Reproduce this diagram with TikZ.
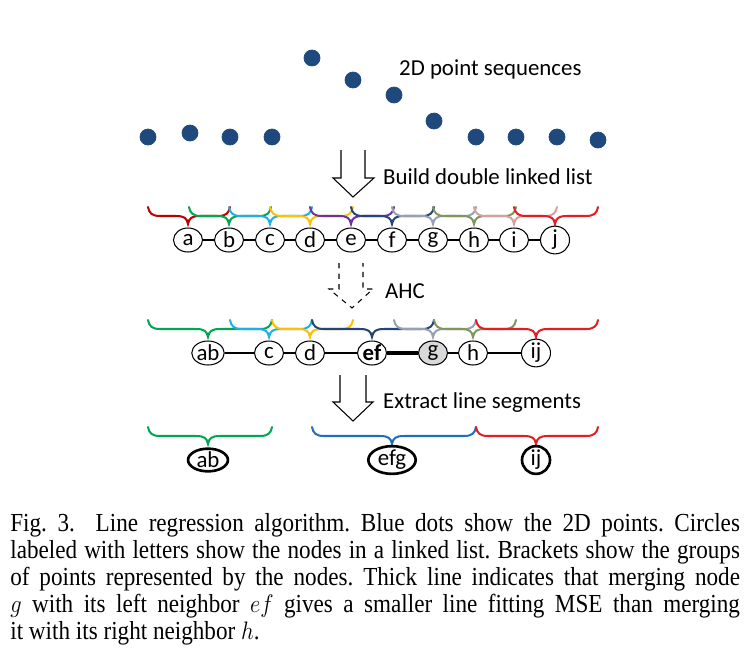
\documentclass[tikz,border=0pt]{standalone}
\usepackage{fontspec}
\setmainfont{Liberation Serif}
\newfontfamily\calibri{Carlito}
\usetikzlibrary{shapes.geometric}
\definecolor{dotblue}{RGB}{31,73,125}
\definecolor{bra}{RGB}{192,0,0}
\definecolor{brb}{RGB}{0,166,81}
\definecolor{brc}{RGB}{30,175,230}
\definecolor{brd}{RGB}{255,192,0}
\definecolor{bre}{RGB}{112,48,160}
\definecolor{brf}{RGB}{38,68,118}
\definecolor{brg}{RGB}{150,162,178}
\definecolor{brh}{RGB}{128,150,90}
\definecolor{bri}{RGB}{215,160,160}
\definecolor{brj}{RGB}{226,30,36}
\definecolor{brefg}{RGB}{30,110,190}
\definecolor{nodegray}{RGB}{217,217,217}
% curly bracket: colour, left x, tip x, right x, top y
\newcommand{\grpbrace}[5]{%
  \draw[grp,#1] (#2,#5) .. controls (#2+1,#5+6) and (#2+4,#5+9) .. (#2+12,#5+9) -- (#3-12,#5+9)
    .. controls (#3-4,#5+9) and (#3-1,#5+11) .. (#3,#5+17)
    .. controls (#3+1,#5+11) and (#3+4,#5+9) .. (#3+12,#5+9)
    -- (#4-12,#5+9) .. controls (#4-4,#5+9) and (#4-1,#5+6) .. (#4,#5);}
\begin{document}
\begin{tikzpicture}[x=0.02cm,y=-0.02cm,
    grp/.style={line width=1.15pt,line cap=round},
    listnode/.style={draw,ellipse,line width=0.6pt,minimum width=0.58cm,minimum height=0.48cm,
      inner sep=0pt,fill=white,font=\calibri\fontsize{13}{14}\selectfont},
    segnode/.style={draw,ellipse,line width=1.5pt,minimum width=0.56cm,minimum height=0.41cm,
      inner xsep=1.5pt,inner ysep=0pt,font=\calibri\fontsize{13}{14}\selectfont},
    lbl/.style={anchor=west,font=\calibri\fontsize{13}{15}\selectfont},
    blockarrow/.style={line width=0.6pt,line join=miter}]
  \useasboundingbox (0,0) rectangle (754,653);
  \filldraw[dotblue] (148,137) circle[radius=8];
  \filldraw[dotblue] (190,133) circle[radius=8];
  \filldraw[dotblue] (230,137) circle[radius=8];
  \filldraw[dotblue] (272,137) circle[radius=8];
  \filldraw[dotblue] (312,58) circle[radius=8];
  \filldraw[dotblue] (353,80) circle[radius=8];
  \filldraw[dotblue] (394,95) circle[radius=8];
  \filldraw[dotblue] (434,121) circle[radius=8];
  \filldraw[dotblue] (476,137) circle[radius=8];
  \filldraw[dotblue] (516,137) circle[radius=8];
  \filldraw[dotblue] (557,137) circle[radius=8];
  \filldraw[dotblue] (598,140) circle[radius=8];
  \node[lbl] (points) at (393,69) {2D point sequences};

  \draw[blockarrow] (341,150) -- (341,178) -- (333,178) -- (353,197) -- (374,178) -- (365,178) -- (365,150);
  \node[lbl] (build) at (377,177) {Build double linked list};

  \grpbrace{bra}{148}{188}{230}{207}
  \grpbrace{brb}{189}{229}{271}{207}
  \grpbrace{brc}{229}{270}{312}{207}
  \grpbrace{brd}{270}{310}{353}{207}
  \grpbrace{bre}{310}{351}{394}{207}
  \grpbrace{brf}{351}{392}{434}{207}
  \grpbrace{brg}{392}{433}{476}{207}
  \grpbrace{brh}{433}{474}{516}{207}
  \grpbrace{bri}{474}{514}{557}{207}
  \grpbrace{brj}{514}{555}{598}{207}
  \node[listnode] (a) at (188,240) {a};
  \node[listnode] (b) at (229,240) {b};
  \node[listnode] (c) at (270,240) {c};
  \node[listnode] (d) at (310,240) {d};
  \node[listnode] (e) at (351,240) {e};
  \node[listnode] (f) at (392,240) {f};
  \node[listnode] (g) at (433,240) {g};
  \node[listnode] (h) at (474,240) {h};
  \node[listnode] (i) at (514,240) {i};
  \node[listnode] (j) at (555,240) {j};
  \draw[line width=0.6pt] (a) -- (b);
  \draw[line width=0.6pt] (b) -- (c);
  \draw[line width=0.6pt] (c) -- (d);
  \draw[line width=0.6pt] (d) -- (e);
  \draw[line width=0.6pt] (e) -- (f);
  \draw[line width=0.6pt] (f) -- (g);
  \draw[line width=0.6pt] (g) -- (h);
  \draw[line width=0.6pt] (h) -- (i);
  \draw[line width=0.6pt] (i) -- (j);

  \draw[blockarrow,dashed] (339,263) -- (339,289) -- (329,289) -- (352,308) -- (373,289) -- (363,289) -- (363,263);
  \node[lbl] (ahc) at (379,291) {AHC};

  \grpbrace{brb}{148}{208}{272}{320}
  \grpbrace{brc}{230}{269}{312}{320}
  \grpbrace{brd}{272}{310}{353}{320}
  \grpbrace{brf}{312}{372}{434}{320}
  \grpbrace{brg}{394}{433}{476}{320}
  \grpbrace{brh}{434}{473}{516}{320}
  \grpbrace{brj}{476}{536}{598}{320}
  \node[listnode] (ab2) at (208,353) {ab};
  \node[listnode] (c2) at (269,353) {c};
  \node[listnode] (d2) at (310,353) {d};
  \node[listnode] (ef2) at (372,353) {\textbf{ef}};
  \node[listnode,fill=nodegray] (g2) at (433,353) {g};
  \node[listnode] (h2) at (473,353) {h};
  \node[listnode] (ij2) at (536,353) {ij};
  \draw[line width=0.6pt] (ab2) -- (c2);
  \draw[line width=0.6pt] (c2) -- (d2);
  \draw[line width=0.6pt] (d2) -- (ef2);
  \draw[line width=2.3pt] (ef2) -- (g2);
  \draw[line width=0.6pt] (g2) -- (h2);
  \draw[line width=0.6pt] (h2) -- (ij2);

  \draw[blockarrow] (340,375) -- (340,402) -- (333,402) -- (353,421) -- (373,402) -- (366,402) -- (366,375);
  \node[lbl] (extract) at (377,403) {Extract line segments};

  \grpbrace{brb}{148}{208}{272}{427}
  \grpbrace{brefg}{312}{392}{476}{427}
  \grpbrace{brj}{476}{536}{598}{427}
  \node[segnode] (ab3) at (208,460) {ab};
  \node[segnode] (efg3) at (392,460) {efg};
  \node[segnode] (ij3) at (536,460) {ij};

  \begin{scope}[xscale=0.89,transform shape]
  \node[anchor=north west,text width=16.4cm,align=justify,inner sep=0pt,
    font=\fontsize{14.8}{15.4}\selectfont\frenchspacing] (caption) at (11.24,513)
    {Fig.~3.\hspace{0.9em}Line regression algorithm. Blue dots show the 2D points. Circles\linebreak
    labeled with letters show the nodes in a linked list. Brackets show the groups\linebreak
    of points represented by the nodes. Thick line indicates that merging node\linebreak
    $g$ with its left neighbor $ef$ gives a smaller line fitting MSE than merging\linebreak
    it with its right neighbor $h$.};
  \end{scope}
\end{tikzpicture}
\end{document}
